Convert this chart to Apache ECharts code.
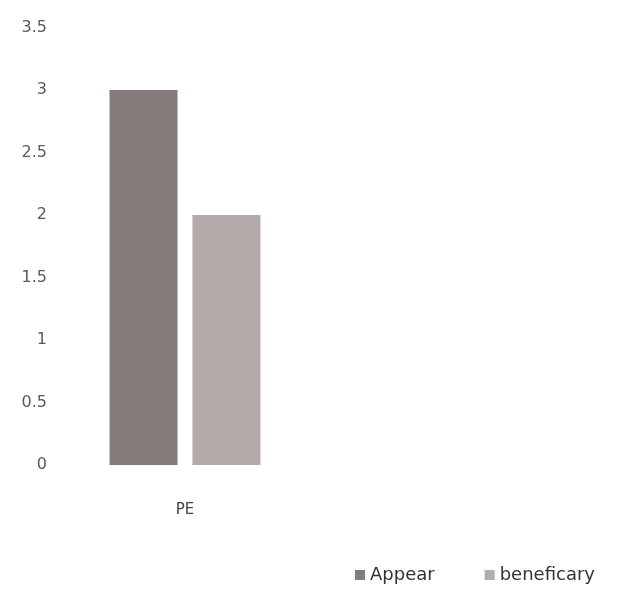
<!DOCTYPE html>
<html><head><meta charset="utf-8">
<script src="https://cdn.jsdelivr.net/npm/echarts@6/dist/echarts.min.js"></script>
<style>html,body{margin:0;padding:0;background:#fff}#c{width:621px;height:589px}</style>
</head><body><div id="c"></div>
<script>
const categories = ['PE'];
const appear = [3];
const beneficary = [2];
const seriesNames = ['Appear', 'beneficary'];

const chart = echarts.init(document.getElementById('c'));
chart.setOption({
  backgroundColor: '#fff',
  animation: false,
  textStyle: { fontFamily: 'DejaVu Sans' },
  grid: { left: 55, right: 306, top: 27.5, bottom: 124 },
  legend: {
    data: seriesNames,
    left: 350, bottom: 0,
    itemWidth: 10, itemHeight: 10, itemGap: 50,
    icon: 'rect',
    textStyle: { fontSize: 18, color: '#333', fontFamily: 'DejaVu Sans' }
  },
  xAxis: {
    type: 'category', data: categories,
    axisLine: { show: false }, axisTick: { show: false },
    axisLabel: { color: '#444', fontSize: 15, margin: 38, fontFamily: 'DejaVu Sans' }
  },
  yAxis: {
    type: 'value', min: 0, max: 3.5, interval: 0.5,
    splitLine: { show: false }, axisLine: { show: false }, axisTick: { show: false },
    axisLabel: { color: '#5a5a5a', fontSize: 16, margin: 8, fontFamily: 'DejaVu Sans' }
  },
  series: [
    { name: seriesNames[0], type: 'bar', data: appear, barWidth: 68, barGap: '22%',
      itemStyle: { color: '#857b79' } },
    { name: seriesNames[1], type: 'bar', data: beneficary, barWidth: 68,
      itemStyle: { color: '#b3acaa' } }
  ]
});
</script></body></html>
